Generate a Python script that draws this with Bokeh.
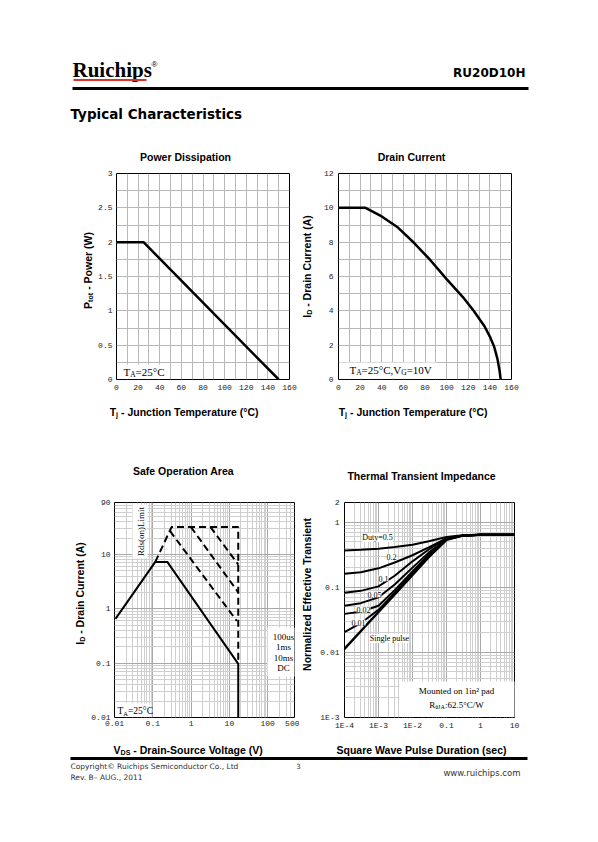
import math
from bokeh.plotting import figure
from bokeh.models import Range1d, FixedTicker, Label, BoxAnnotation
from bokeh.layouts import column, row
from bokeh.embed import file_html
from bokeh.resources import INLINE

# ---------------- data ----------------
pd_temp = [0, 25, 150]
pd_power = [2.0, 2.0, 0.0]
pd_xticks = [0, 20, 40, 60, 80, 100, 120, 140, 160]
pd_yticks = [0, 0.5, 1, 1.5, 2, 2.5, 3]
pd_ylabels = ["0", "0.5", "1", "1.5", "2", "2.5", "3"]

dc_temp = [0, 25, 40, 55, 70, 85, 100, 115, 125, 135, 140, 144, 147, 149, 150]
dc_current = [10, 10, 9.5, 8.85, 7.95, 6.95, 5.85, 4.8, 4.0, 3.1, 2.5, 1.9, 1.2, 0.5, 0]
dc_xticks = [0, 20, 40, 60, 80, 100, 120, 140, 160]
dc_yticks = [0, 2, 4, 6, 8, 10, 12]

soa_dc_v = [0.0106, 0.116, 0.239, 17, 17]
soa_dc_i = [0.65, 7.26, 7.26, 0.097, 0.01]
soa_rds_v = [0.116, 0.308, 17, 17]
soa_rds_i = [7.26, 31.8, 31.8, 0.1]
soa_100us_v = [3.2, 17]
soa_100us_i = [31.8, 6.5]
soa_1ms_v = [0.99, 17]
soa_1ms_i = [31.8, 2.0]
soa_10ms_v = [0.28, 15.5]
soa_10ms_i = [27, 0.6]
soa_xticks = [0.01, 0.1, 1, 10, 100, 500]
soa_xlabels = ["0.01", "0.1", "1", "10", "100", "500"]
soa_yticks = [0.01, 0.1, 1, 10, 90]
soa_ylabels = ["0.01", "0.1", "1", "10", "90"]

th_t = [1e-4, 3e-4, 1e-3, 3e-3, 1e-2, 3e-2, 0.1, 0.3, 1, 3, 10]
th_d05 = [0.366, 0.375, 0.39, 0.415, 0.45, 0.51, 0.59, 0.63, 0.638, 0.64, 0.64]
th_d02 = [0.161, 0.17, 0.195, 0.24, 0.31, 0.41, 0.56, 0.625, 0.638, 0.64, 0.64]
th_d01 = [0.082, 0.088, 0.103, 0.15, 0.25, 0.38, 0.57, 0.62, 0.638, 0.64, 0.64]
th_d005 = [0.052, 0.057, 0.07, 0.11, 0.2, 0.34, 0.55, 0.62, 0.638, 0.64, 0.64]
th_d002 = [0.039, 0.042, 0.052, 0.09, 0.175, 0.315, 0.545, 0.62, 0.638, 0.64, 0.64]
th_d001 = [0.0204, 0.028, 0.045, 0.082, 0.163, 0.3, 0.54, 0.62, 0.638, 0.64, 0.64]
th_single = [0.0113, 0.0211, 0.0417, 0.0777, 0.154, 0.29, 0.535, 0.62, 0.638, 0.64, 0.64]
th_xticks = [1e-4, 1e-3, 1e-2, 0.1, 1, 10]
th_xlabels = ["1E-4", "1E-3", "1E-2", "0.1", "1", "10"]
th_yticks = [1e-3, 0.01, 0.1, 1, 2]
th_ylabels = ["1E-3", "0.01", "0.1", "1", "2"]

# ---------------- text helpers ----------------
ARIAL_B = {' ': 278, '(': 333, ')': 333, '-': 333, '.': 278, ',': 278, '/': 278, ':': 333, '=': 584, '°': 400,
           'A': 722, 'B': 722, 'C': 722, 'D': 722, 'E': 667, 'F': 611, 'G': 778, 'H': 722, 'I': 278, 'J': 556,
           'K': 722, 'L': 611, 'M': 833, 'N': 722, 'O': 778, 'P': 667, 'Q': 778, 'R': 722, 'S': 667, 'T': 611,
           'U': 722, 'V': 667, 'W': 944, 'X': 667, 'Y': 667, 'Z': 611,
           'a': 556, 'b': 611, 'c': 556, 'd': 611, 'e': 556, 'f': 333, 'g': 611, 'h': 611, 'i': 278, 'j': 278,
           'k': 556, 'l': 278, 'm': 889, 'n': 611, 'o': 611, 'p': 611, 'q': 611, 'r': 389, 's': 556, 't': 333,
           'u': 611, 'v': 556, 'w': 778, 'x': 556, 'y': 556, 'z': 500}
TIMES = {' ': 250, '(': 333, ')': 333, '-': 333, '.': 250, ',': 250, '/': 278, ':': 278, '=': 564, '°': 400,
         'A': 722, 'B': 667, 'C': 667, 'D': 722, 'E': 611, 'G': 722, 'I': 333, 'J': 389, 'M': 889, 'R': 667,
         'S': 556, 'T': 611, 'V': 722, 'W': 944, 'a': 444, 'd': 500, 'e': 444, 'i': 278, 'l': 278, 'm': 778,
         'n': 500, 'o': 500, 'p': 500, 's': 389, 't': 278, 'u': 500, 'y': 500, 'θ': 500, '²': 300}
for _d in "0123456789":
    ARIAL_B[_d] = 556
    TIMES[_d] = 500

SANS = "Liberation Sans"
SERIF = "Liberation Serif"


def tw(text, font):
    table = TIMES if font == SERIF else ARIAL_B
    dflt = 500 if font == SERIF else 556
    return sum(table.get(c, dflt) for c in text) / 1000.0


def sc(fr, px, py):
    return px - fr[0], fr[3] - py


def lab(p, fr, px, py, text, size, font=SANS, style="normal", align="left", angle=0.0, color="black", bg=None):
    x, y = sc(fr, px, py)
    kw = {}
    if bg is not None:
        kw["background_fill_color"] = bg
        kw["background_fill_alpha"] = 1.0
    p.add_layout(Label(x=x, y=y, x_units="screen", y_units="screen", text=text, text_font=font,
                       text_font_size=f"{size}px", text_font_style=style, text_align=align,
                       text_baseline="middle", angle=angle, text_color=color, **kw))


def rich(p, fr, px, py, parts, size, font=SANS, style="bold", align="center", vertical=False, bg=None):
    sizes = [size if m == "n" else size * 0.68 for _, m in parts]
    widths = [tw(t, font) * s for (t, _), s in zip(parts, sizes)]
    adv = -sum(widths) / 2 if align == "center" else 0.0
    for (t, m), s, w in zip(parts, sizes, widths):
        shift = 0.3 * size if m == "sub" else (-0.38 * size if m == "sup" else 0.0)
        body = t.lstrip(" ")
        lead = tw(t[:len(t) - len(body)], font) * s
        if vertical:
            lab(p, fr, px + shift, py - adv - lead, body, s, font, style, "left", math.pi / 2, bg=bg)
        else:
            lab(p, fr, px + adv + lead, py + shift, body, s, font, style, "left", 0.0, bg=bg)
        adv += w


def wbox(p, fr, x0, y0, x1, y1, color="white"):
    l, b = sc(fr, x0, y1)
    r, t = sc(fr, x1, y0)
    p.add_layout(BoxAnnotation(left=l, right=r, bottom=b, top=t, left_units="screen", right_units="screen",
                               bottom_units="screen", top_units="screen", fill_color=color, fill_alpha=1.0,
                               line_color=None))


def chart(box, fr, xr, yr, xt="linear", yt="linear", xstand=5, ystand=4):
    p = figure(width=box[2] - box[0], height=box[3] - box[1], x_range=xr, y_range=yr,
               x_axis_type=xt, y_axis_type=yt, output_backend="svg", toolbar_location=None,
               min_border_left=fr[0] - box[0], min_border_right=box[2] - fr[2],
               min_border_top=fr[1] - box[1], min_border_bottom=box[3] - fr[3])
    p.outline_line_color = "black"
    p.outline_line_width = 1
    p.outline_line_alpha = 1.0
    for ax in p.axis:
        ax.axis_line_color = None
        ax.major_tick_line_color = None
        ax.minor_tick_line_color = None
        ax.major_tick_out = 0
        ax.major_tick_in = 0
        ax.major_label_text_font = "Liberation Mono"
        ax.major_label_text_font_size = "8px"
        ax.major_label_text_color = "#222222"
    p.xaxis.major_label_standoff = xstand
    p.yaxis.major_label_standoff = ystand
    p.grid.grid_line_color = "#b8b8b8"
    p.grid.grid_line_width = 1
    return p


def blank(box):
    p = figure(width=box[2] - box[0], height=box[3] - box[1], x_range=Range1d(0, 1), y_range=Range1d(0, 1),
               output_backend="svg", toolbar_location=None, x_axis_location=None, y_axis_location=None,
               min_border=0, min_border_left=0, min_border_right=0, min_border_top=0, min_border_bottom=0)
    p.grid.visible = False
    p.outline_line_color = None
    return p


def log_minor(lo_exp, hi_exp):
    return [k * 10.0 ** e for e in range(lo_exp, hi_exp + 1) for k in range(2, 10)]


# ---------------- page boxes (page pixel coordinates) ----------------
HB = (0, 0, 598, 163)
Y1B, B1, F1 = (0, 163, 95, 400), (95, 163, 299, 400), (116, 173, 289, 379)
Y2B, B2, F2 = (299, 163, 316, 400), (316, 163, 598, 400), (338, 172, 511, 380)
MB = (0, 400, 598, 490)
Y3B, B3, F3 = (0, 490, 88, 741), (88, 490, 299, 741), (113, 502, 294, 718)
Y4B, B4, F4 = (299, 490, 317, 741), (317, 490, 598, 741), (343, 502, 514, 717)
FB = (0, 741, 598, 842)

# ---------------- header (with top chart titles) ----------------
hdr = blank(HB)
lab(hdr, HB, 72, 69, "Ruichips", 21, SERIF, "bold")
lab(hdr, HB, 151, 64, "®", 8, SANS)
wbox(hdr, HB, 73, 78.5, 146, 80.5, "#e0302a")
lab(hdr, HB, 525, 72, "RU20D10H", 12, "DejaVu Sans", "bold", "right")
wbox(hdr, HB, 72, 86.5, 528, 89.5, "black")
lab(hdr, HB, 70, 113, "Typical Characteristics", 13.5, "DejaVu Sans", "bold")
lab(hdr, HB, 185, 156, "Power Dissipation", 10.5, SANS, "bold", "center")
lab(hdr, HB, 411, 156, "Drain Current", 10.5, SANS, "bold", "center")

# ---------------- chart 1: power dissipation ----------------
c1 = chart(B1, F1, Range1d(0, 160), Range1d(0, 3), xstand=5, ystand=4)
c1.xaxis.ticker = FixedTicker(ticks=pd_xticks)
c1.yaxis.ticker = FixedTicker(ticks=pd_yticks)
c1.yaxis.major_label_overrides = dict(zip(pd_yticks, pd_ylabels))
c1.xgrid.ticker = FixedTicker(ticks=[v * 10 for v in range(17)])
c1.ygrid.ticker = FixedTicker(ticks=[v * 0.25 for v in range(13)])
c1.line(pd_temp, pd_power, line_color="black", line_width=2.5)
wbox(c1, F1, 117, 364, 168, 378.5)
rich(c1, F1, 123, 371, [("T", "n"), ("A", "sub"), ("=25°C", "n")], 11, SERIF, "normal", "left")
y1 = blank(Y1B)
rich(y1, Y1B, 87, 291, [("P", "n"), ("tot", "sub"), (" - Power (W)", "n")], 10.5, vertical=True)

# ---------------- chart 2: drain current ----------------
c2 = chart(B2, F2, Range1d(0, 160), Range1d(0, 12), xstand=5, ystand=5)
c2.xaxis.ticker = FixedTicker(ticks=dc_xticks)
c2.yaxis.ticker = FixedTicker(ticks=dc_yticks)
c2.xgrid.ticker = FixedTicker(ticks=[v * 10 for v in range(17)])
c2.ygrid.ticker = FixedTicker(ticks=list(range(13)))
c2.line(dc_temp, dc_current, line_color="black", line_width=2.5)
wbox(c2, F2, 339, 363, 436, 379)
rich(c2, F2, 349, 370, [("T", "n"), ("A", "sub"), ("=25°C,V", "n"), ("G", "sub"), ("=10V", "n")],
     11, SERIF, "normal", "left")
y2 = blank(Y2B)
rich(y2, Y2B, 306, 287, [("I", "n"), ("D", "sub"), (" - Drain Current (A)", "n")], 10.5, vertical=True)

# ---------------- middle strip: x labels of row 1, titles of row 2 ----------------
mid = blank(MB)
rich(mid, MB, 184, 411, [("T", "n"), ("j", "sub"), (" - Junction Temperature (°C)", "n")], 10.5)
rich(mid, MB, 413, 411, [("T", "n"), ("j", "sub"), (" - Junction Temperature (°C)", "n")], 10.5)
lab(mid, MB, 183, 470, "Safe Operation Area", 10.5, SANS, "bold", "center")
lab(mid, MB, 421, 475, "Thermal Transient Impedance", 10.5, SANS, "bold", "center")

# ---------------- chart 3: safe operation area ----------------
c3 = chart(B3, F3, Range1d(0.01, 500), Range1d(0.01, 90), "log", "log", xstand=3, ystand=4)
c3.xaxis.ticker = FixedTicker(ticks=soa_xticks)
c3.yaxis.ticker = FixedTicker(ticks=soa_yticks)
c3.xaxis.major_label_overrides = dict(zip(soa_xticks, soa_xlabels))
c3.yaxis.major_label_overrides = dict(zip(soa_yticks, soa_ylabels))
c3.xgrid.ticker = FixedTicker(ticks=[0.01, 0.1, 1, 10, 100], minor_ticks=log_minor(-2, 2))
c3.ygrid.ticker = FixedTicker(ticks=[0.01, 0.1, 1, 10], minor_ticks=log_minor(-2, 1))
c3.grid.minor_grid_line_color = "#cfcfcf"
c3.grid.grid_line_color = "#a8a8a8"
c3.line(soa_dc_v, soa_dc_i, line_color="black", line_width=2)
for xs, ys in [(soa_rds_v, soa_rds_i), (soa_100us_v, soa_100us_i), (soa_1ms_v, soa_1ms_i),
               (soa_10ms_v, soa_10ms_i)]:
    c3.line(xs, ys, line_color="black", line_width=2, line_dash="7 4")
wbox(c3, F3, 131, 505, 146, 559)
lab(c3, F3, 139, 532, "Rds(on)Limit", 9, SERIF, "normal", "center", math.pi / 2)
wbox(c3, F3, 266, 628, 294, 677)
for i, t in enumerate(["100us", "1ms", "10ms", "DC"]):
    lab(c3, F3, 282, 637 + i * 10.5, t, 9, SERIF, "normal", "center")
wbox(c3, F3, 114, 704, 150, 717.5)
rich(c3, F3, 116, 711, [("T", "n"), ("A", "sub"), ("=25°C", "n")], 9.5, SERIF, "normal", "left")
y3 = blank(Y3B)
rich(y3, Y3B, 79, 617, [("I", "n"), ("D", "sub"), (" - Drain Current (A)", "n")], 10.5, vertical=True)

# ---------------- chart 4: thermal transient impedance ----------------
c4 = chart(B4, F4, Range1d(1e-4, 10), Range1d(1e-3, 2), "log", "log", xstand=3, ystand=5)
c4.xaxis.ticker = FixedTicker(ticks=th_xticks)
c4.yaxis.ticker = FixedTicker(ticks=th_yticks)
c4.xaxis.major_label_overrides = dict(zip(th_xticks, th_xlabels))
c4.yaxis.major_label_overrides = dict(zip(th_yticks, th_ylabels))
c4.xgrid.ticker = FixedTicker(ticks=[1e-4, 1e-3, 1e-2, 0.1, 1, 10], minor_ticks=log_minor(-4, 0))
c4.ygrid.ticker = FixedTicker(ticks=[1e-3, 0.01, 0.1, 1], minor_ticks=log_minor(-3, 0))
c4.grid.minor_grid_line_color = "#cfcfcf"
c4.grid.grid_line_color = "#a8a8a8"
for ys, w in [(th_d05, 2), (th_d02, 2), (th_d01, 2), (th_d005, 2), (th_d002, 2), (th_d001, 2), (th_single, 2.5)]:
    c4.line(th_t, ys, line_color="black", line_width=w)
for (t, x, y) in [("Duty=0.5", 376, 537), ("0.2", 390, 556), ("0.1", 382, 578), ("0.05", 373, 594),
                  ("0.02", 362, 609), ("0.01", 357, 622), ("Single pulse", 388, 638)]:
    lab(c4, F4, x, y, t, 8, SERIF, "normal", "center", bg="white")
wbox(c4, F4, 398, 681, 513.5, 716.5)
lab(c4, F4, 455, 690, "Mounted on 1in² pad", 9, SERIF, "normal", "center")
rich(c4, F4, 455, 704, [("R", "n"), ("θJA", "sub"), (":62.5°C/W", "n")], 9, SERIF, "normal", "center")
y4 = blank(Y4B)
lab(y4, Y4B, 306, 618, "Normalized Effective Transient", 10.5, SANS, "bold", "center", math.pi / 2)

# ---------------- footer (with bottom x labels) ----------------
ftr = blank(FB)
rich(ftr, FB, 188, 749, [("V", "n"), ("DS", "sub"), (" - Drain-Source Voltage (V)", "n")], 10.5)
lab(ftr, FB, 421, 749, "Square Wave Pulse Duration (sec)", 10.5, SANS, "bold", "center")
wbox(ftr, FB, 70, 756.5, 527, 759.5, "black")
lab(ftr, FB, 70, 766, "Copyright© Ruichips Semiconductor Co., Ltd", 7.5, "DejaVu Sans", "normal", "left", color="#333333")
lab(ftr, FB, 70, 777, "Rev. B– AUG., 2011", 7.5, "DejaVu Sans", "normal", "left", color="#333333")
lab(ftr, FB, 298, 765, "3", 7, "DejaVu Sans", "normal", "center", color="#333333")
lab(ftr, FB, 520, 772, "www.ruichips.com", 8.5, "DejaVu Sans", "normal", "right", color="#333333")

layout = column(hdr, row(y1, c1, y2, c2), mid, row(y3, c3, y4, c4), ftr)
open("out.html", "w").write(file_html(layout, INLINE, title="RU20D10H"))
